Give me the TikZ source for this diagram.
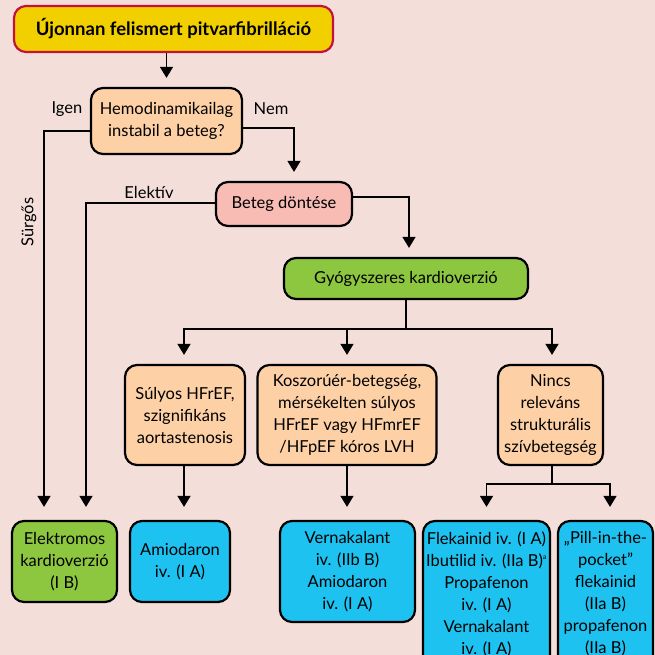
\documentclass[tikz,border=0pt]{standalone}
\usepackage{fontspec}
\setmainfont{Lato}
\usetikzlibrary{arrows.meta,calc}
\definecolor{bg}{RGB}{243,222,218}
\definecolor{ttl}{RGB}{242,208,0}
\definecolor{crim}{RGB}{196,18,62}
\definecolor{peach}{RGB}{253,208,166}
\definecolor{pinkb}{RGB}{248,188,180}
\definecolor{grn}{RGB}{141,198,63}
\definecolor{blu}{RGB}{30,194,240}
\tikzset{
  box/.style={draw=black, line width=2.2pt, rounded corners=12pt, align=center, inner sep=0pt,
    font=\fontsize{16.5}{22}\selectfont},
  conn/.style={line width=1.3pt},
  arr/.style={conn, -{Triangle[width=13pt,length=11pt]}, shorten >=9pt},
  arrb/.style={arr, shorten >=13pt},
  lbl/.style={font=\fontsize{16.5}{22}\selectfont, inner sep=0pt}
}
\begin{document}
\begin{tikzpicture}[x=1pt,y=-1pt]
\fill[bg] (0,0) rectangle (655,655);
\useasboundingbox (0,0) rectangle (655,655);
\clip (0,0) rectangle (655,655);

\node[box, draw=crim, fill=ttl, minimum width=319pt, minimum height=46pt,
  font=\fontsize{18.5}{22}\selectfont\bfseries] (title) at (173.5,29) {Újonnan felismert pitvarfibrilláció};
\node[box, fill=peach, minimum width=151pt, minimum height=66pt] (hemo) at (166.5,121) {Hemodinamikailag\\instabil a beteg?};
\node[box, fill=pinkb, minimum width=136pt, minimum height=44pt] (beteg) at (284,204) {Beteg döntése};
\node[box, fill=grn, minimum width=244pt, minimum height=41pt] (gyogy) at (406,278.5) {Gyógyszeres kardioverzió};
\node[box, fill=peach, minimum width=120pt, minimum height=100pt] (sulyos) at (185,415) {Súlyos HFrEF,\\szignifikáns\\aortastenosis};
\node[box, fill=peach, minimum width=179pt, minimum height=100pt] (kosz) at (347,415) {Koszorúér-betegség,\\mérsékelten súlyos\\HFrEF vagy HFmrEF\\/HFpEF kóros LVH};
\node[box, fill=peach, minimum width=105pt, minimum height=100pt] (nincs) at (550.5,415) {Nincs\\releváns\\strukturális\\szívbetegség};
\node[box, fill=grn, minimum width=105pt, minimum height=81pt] (elek) at (64.5,561.5) {Elektromos\\kardioverzió\\(I B)};
\node[box, fill=blu, minimum width=100pt, minimum height=81pt] (amio) at (180,561.5) {Amiodaron\\iv. (I A)};
\node[box, fill=blu, minimum width=135pt, minimum height=101pt] (vern) at (347.5,571.5) {Vernakalant\\iv. (IIb B)\\Amiodaron\\iv. (I A)};
\node[box, fill=blu, minimum width=127pt, minimum height=146pt] (flek) at (486.5,594) {Flekainid iv. (I A)\\Ibutilid iv. (IIa B)\textsuperscript{\fontsize{7}{8}\selectfont a}\\Propafenon\\iv. (I A)\\Vernakalant\\iv. (I A)};
\node[box, fill=blu, minimum width=95pt, minimum height=146pt] (pill) at (605.5,594) {„Pill-in-the-\\pocket”\\flekainid\\(IIa B)\\propafenon\\(IIa B)};

\node[lbl] (igen) at (67,109) {Igen};
\node[lbl] (nem) at (271,109) {Nem};
\node[lbl] (elektiv) at (149,192) {Elektív};
\node[lbl, rotate=90] (surgos) at (29,222) {Sürgős};

\draw[arr] (title.south -| hemo.north) -- (hemo.north);
\draw[arrb] ([yshift=-10pt]hemo.west) -| ([xshift=-20.5pt]elek.north);
\draw[arr] ([yshift=-7pt]hemo.east) -| ([xshift=10pt]beteg.north);
\draw[arrb] ([yshift=1pt]beteg.west) -| ([xshift=21.5pt]elek.north);
\draw[arr] ([yshift=7pt]beteg.east) -| ([xshift=3pt]gyogy.north);
\coordinate (j1) at ($(gyogy.south)+(0,29)$);
\draw[conn] (gyogy.south) -- (j1);
\draw[arr] (j1) -| ([xshift=-1pt]sulyos.north);
\draw[arr] (j1) -| ([xshift=1.5pt]nincs.north);
\draw[arr] (j1 -| kosz.north) -- (kosz.north);
\draw[arrb] ([xshift=-1pt]sulyos.south) -- ([xshift=-1pt]sulyos.south |- amio.north);
\draw[arrb] (kosz.south) -- (kosz.south |- vern.north);
\coordinate (j2) at ($([xshift=1.5pt]nincs.south)+(0,18)$);
\draw[conn] ([xshift=1.5pt]nincs.south) -- (j2);
\draw[arrb] (j2) -| (flek.north);
\draw[arrb] (j2) -| ([xshift=4.5pt]pill.north);
\end{tikzpicture}
\end{document}
